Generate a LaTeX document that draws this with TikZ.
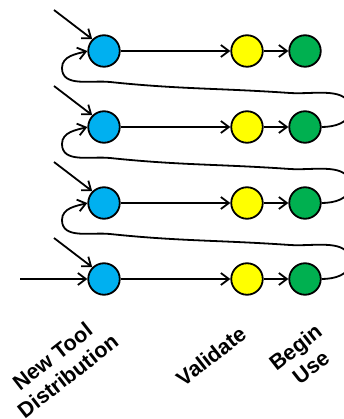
\documentclass[tikz,border=0pt]{standalone}
\usepackage{fontspec}
\setmainfont{Liberation Sans}
\usetikzlibrary{arrows.meta}
\definecolor{cblue}{HTML}{00B0F0}
\definecolor{cyel}{HTML}{FFFF00}
\definecolor{cgrn}{HTML}{00B050}
\begin{document}
\begin{tikzpicture}[x=1pt,y=1pt,
  dot/.style={circle,draw=black,line width=1.8pt,minimum size=31.5pt,inner sep=0pt},
  bl/.style={dot,fill=cblue},
  yl/.style={dot,fill=cyel},
  gr/.style={dot,fill=cgrn},
  arr/.style={line width=1.8pt,-{Straight Barb[length=8pt,width=12pt,line width=1.8pt]}},
  lbl/.style={font=\bfseries\fontsize{21.5}{25}\selectfont,rotate=38,align=center,inner sep=0pt}]
\useasboundingbox (0,0) rectangle (344,-419);
\foreach \i/\y in {1/51,2/127,3/203,4/279} {
  \node[bl] (b\i) at (104,-\y) {};
  \node[yl] (y\i) at (247,-\y) {};
  \node[gr] (g\i) at (305,-\y) {};
  \coordinate (s\i) at (54,-\y+41);
  \draw[arr] (b\i) -- (y\i);
  \draw[arr] (y\i) -- (g\i);
  \draw[arr] (s\i) -- (b\i.135);
}
\coordinate (h) at (20,-279);
\draw[arr] (h) -- (b4);
\foreach \k/\n/\Y in {1/2/127,2/3/203,3/4/279} {
  \draw[arr] (g\n.east) to[out=0,in=-90] (350,-\Y+17) to[out=90,in=-4] (290,-\Y+34)
    to[out=176,in=-6] (110,-\Y+45) to[out=174,in=-90] (62,-\Y+59) to[out=90,in=195] (b\k.west);
}
\node[lbl] (l1) at (60,-366) {New Tool\\Distribution};
\node[lbl] (l2) at (211,-356) {Validate};
\node[lbl] (l3) at (303,-357) {Begin\\Use};
\end{tikzpicture}
\end{document}
